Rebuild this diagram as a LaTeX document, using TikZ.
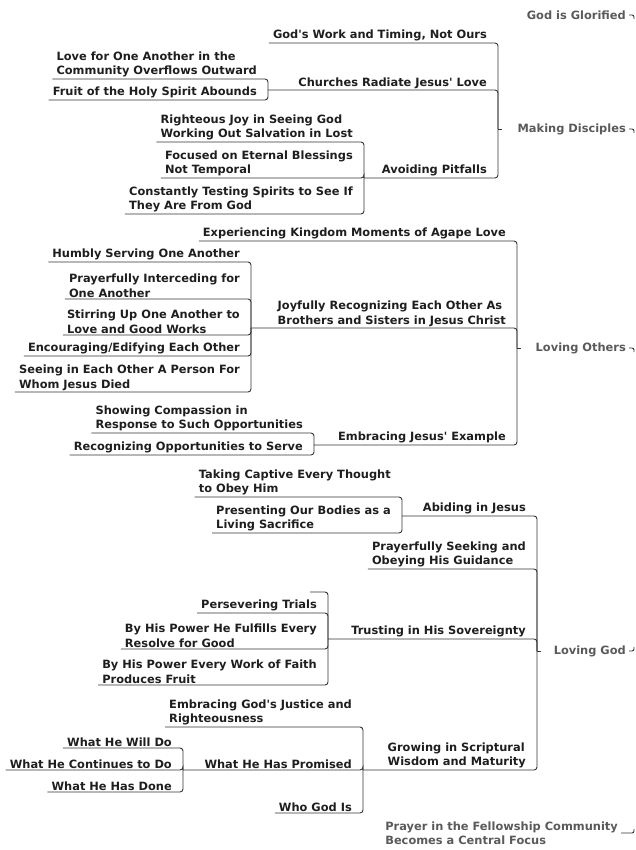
\documentclass[tikz,border=0pt]{standalone}
\usepackage{fontspec}
\setmainfont{DejaVu Sans}[Ligatures=TeXOff]
\usepackage{tikz}
\usetikzlibrary{calc}

\definecolor{linecol}{HTML}{333333}
\definecolor{leafcol}{HTML}{1E1E1E}
\definecolor{topcol}{HTML}{5A5A5A}

\begin{document}
\begin{tikzpicture}[x=1pt, y=-1pt,
	leaf/.style={anchor=south east, inner xsep=4pt, inner ysep=1.5pt,
		align=left, text=leafcol,
		font=\fontsize{11.4}{14.5}\selectfont\bfseries},
	top/.style={anchor=east, inner sep=1pt, align=left, text=topcol,
		font=\fontsize{11.4}{14.5}\selectfont\bfseries},
	link/.style={draw=linecol, line width=0.9pt, rounded corners=3pt}]
	\useasboundingbox (0,0) rectangle (635,850);

	\node [top] (1) at (627,15) {God is Glorified};
	\node [top] (2) at (627,129) {Making Disciples};
	\node [top] (3) at (627,348) {Loving Others};
	\node [top] (4) at (627,651) {Loving God};
	\node [top] (5) at (619,833)
		{Prayer in the Fellowship Community\\Becomes a Central Focus};

	\coordinate (2b) at (498,129);
	\coordinate (22b) at (268,90);
	\coordinate (23b) at (364,178);
	\coordinate (3b) at (517,348);
	\coordinate (32b) at (251,328);
	\coordinate (33b) at (314,445);
	\coordinate (4b) at (537,651);
	\coordinate (41b) at (402,516);
	\coordinate (43b) at (328,639);
	\coordinate (44b) at (363,770);
	\coordinate (442b) at (183,770);

	\node [leaf] (21) at (491,43) {God's Work and Timing, Not Ours};
	\node [leaf] (22) at (491,90) {Churches Radiate Jesus' Love};
	\node [leaf] (23) at (491,178) {Avoiding Pitfalls};
	\node [leaf] (221) at (261,79)
		{Love for One Another in the\\Community Overflows Outward};
	\node [leaf] (222) at (261,100) {Fruit of the Holy Spirit Abounds};
	\node [leaf] (231) at (357,142)
		{Righteous Joy in Seeing God\\Working Out Salvation in Lost};
	\node [leaf] (232) at (357,178)
		{Focused on Eternal Blessings\\Not Temporal};
	\node [leaf] (233) at (357,214)
		{Constantly Testing Spirits to See If\\They Are From God};

	\node [leaf] (31) at (510,241) {Experiencing Kingdom Moments of Agape Love};
	\node [leaf] (32) at (510,328)
		{Joyfully Recognizing Each Other As\\Brothers and Sisters in Jesus Christ};
	\node [leaf] (33) at (510,445) {Embracing Jesus' Example};
	\node [leaf] (321) at (244,262) {Humbly Serving One Another};
	\node [leaf] (322) at (244,299)
		{Prayerfully Interceding for\\One Another};
	\node [leaf] (323) at (244,335)
		{Stirring Up One Another to\\Love and Good Works};
	\node [leaf] (324) at (244,356) {Encouraging/Edifying Each Other};
	\node [leaf] (325) at (244,392)
		{Seeing in Each Other A Person For\\Whom Jesus Died};
	\node [leaf] (331) at (307,433)
		{Showing Compassion in\\Response to Such Opportunities};
	\node [leaf] (332) at (307,455) {Recognizing Opportunities to Serve};

	\node [leaf] (41) at (530,516) {Abiding in Jesus};
	\node [leaf] (42) at (530,569)
		{Prayerfully Seeking and\\Obeying His Guidance};
	\node [leaf] (43) at (530,639) {Trusting in His Sovereignty};
	\node [leaf] (44) at (530,770)
		{Growing in Scriptural\\Wisdom and Maturity};
	\node [leaf] (411) at (395,497)
		{Taking Captive Every Thought\\to Obey Him};
	\node [leaf] (412) at (395,533)
		{Presenting Our Bodies as a\\Living Sacrifice};
	\coordinate (431) at (310,592);
	\node [leaf] (432) at (321,613) {Persevering Trials};
	\node [leaf] (433) at (321,649)
		{By His Power He Fulfills Every\\Resolve for Good};
	\node [leaf] (434) at (321,685)
		{By His Power Every Work of Faith\\Produces Fruit};
	\node [leaf] (441) at (356,727)
		{Embracing God's Justice and\\Righteousness};
	\node [leaf] (442) at (356,770) {What He Has Promised};
	\node [leaf] (443) at (356,813) {Who God Is};
	\node [leaf] (4421) at (176,748) {What He Will Do};
	\node [leaf] (4422) at (176,770) {What He Continues to Do};
	\node [leaf] (4423) at (176,792) {What He Has Done};

	\draw [link] (21.south west) -| (2b);
	\draw [link] (22b) -| (2b);
	\draw [link] (23b) -| (2b);
	\draw [link] (221.south west) -| (22b);
	\draw [link] (222.south west) -| (22b);
	\draw [link] (231.south west) -| (23b);
	\draw [link] (232.south west) -| (23b);
	\draw [link] (233.south west) -| (23b);

	\draw [link] (31.south west) -| (3b);
	\draw [link] (32b) -| (3b);
	\draw [link] (33b) -| (3b);
	\draw [link] (321.south west) -| (32b);
	\draw [link] (322.south west) -| (32b);
	\draw [link] (323.south west) -| (32b);
	\draw [link] (324.south west) -| (32b);
	\draw [link] (325.south west) -| (32b);
	\draw [link] (331.south west) -| (33b);
	\draw [link] (332.south west) -| (33b);

	\draw [link] (41b) -| (4b);
	\draw [link] (42.south west) -| (4b);
	\draw [link] (43b) -| (4b);
	\draw [link] (44b) -| (4b);
	\draw [link] (411.south west) -| (41b);
	\draw [link] (412.south west) -| (41b);
	\draw [link] (431) -| (43b);
	\draw [link] (432.south west) -| (43b);
	\draw [link] (433.south west) -| (43b);
	\draw [link] (434.south west) -| (43b);
	\draw [link] (441.south west) -| (44b);
	\draw [link] (442b) -| (44b);
	\draw [link] (443.south west) -| (44b);
	\draw [link] (4421.south west) -| (442b);
	\draw [link] (4422.south west) -| (442b);
	\draw [link] (4423.south west) -| (442b);

	\coordinate (1r) at (634,19);
	\coordinate (2r) at (634,133);
	\coordinate (3r) at (634,352);
	\coordinate (4r) at (634,647);
	\coordinate (5r) at (634,829);
	\draw [link] (2b) -- ++(4,0);
	\draw [link] (3b) -- ++(4,0);
	\draw [link] (4b) -- ++(4,0);
	\foreach \n in {1,...,5}
		\draw [link, rounded corners=2pt, shorten <=2pt] (\n) -| (\n r);
\end{tikzpicture}
\end{document}
